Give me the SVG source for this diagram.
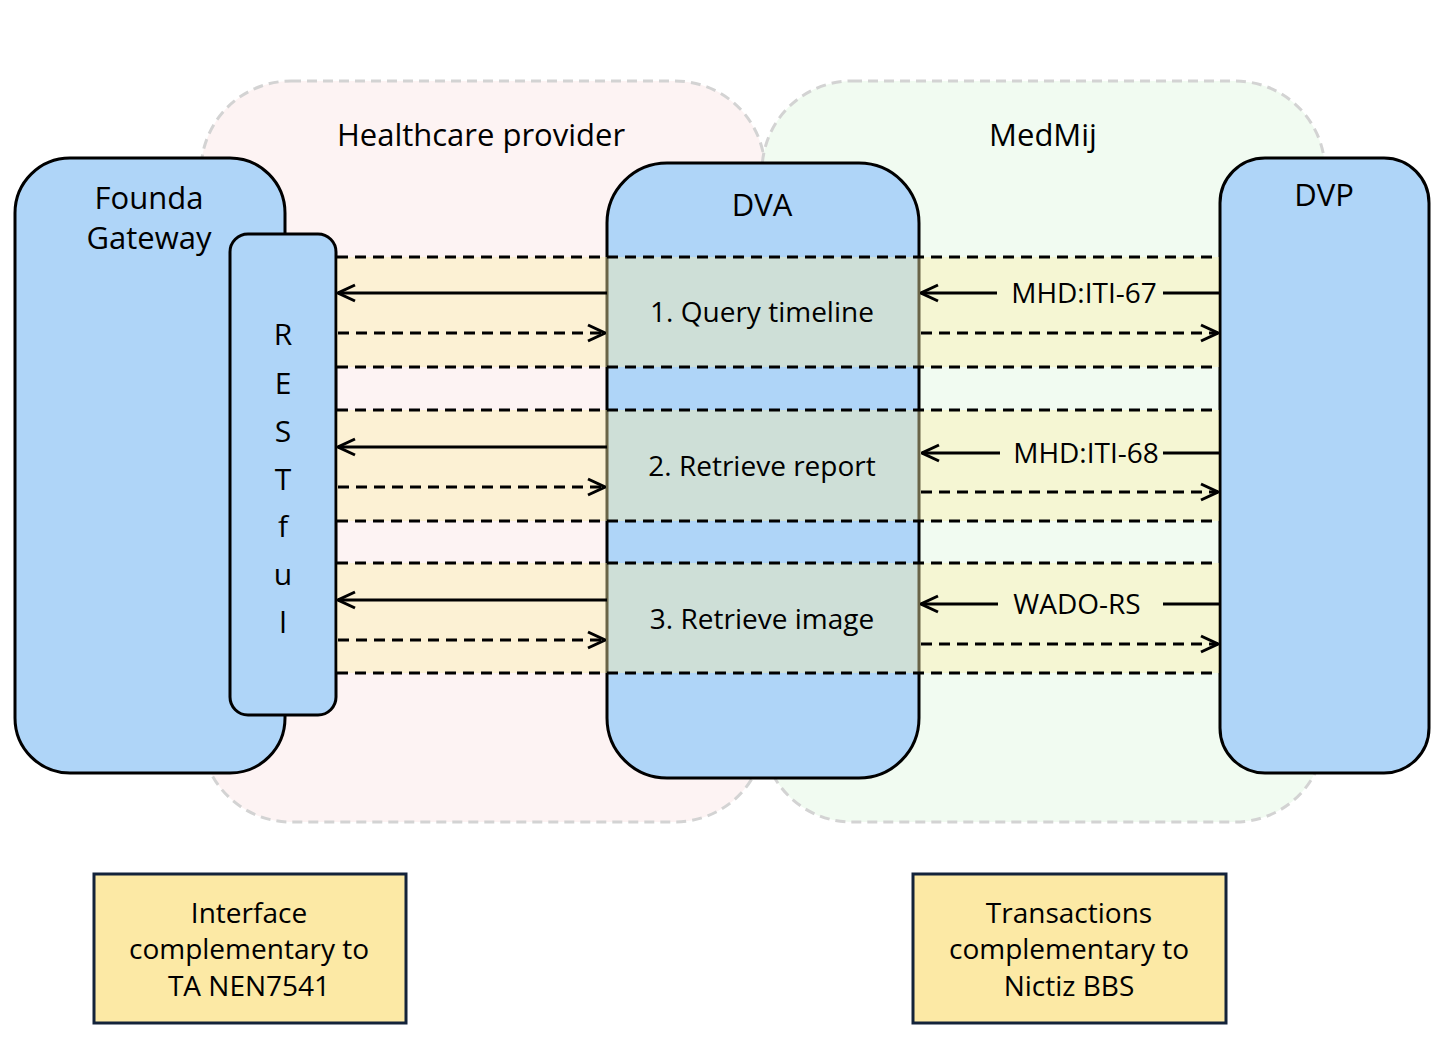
<svg xmlns="http://www.w3.org/2000/svg" width="1448" height="1046" viewBox="0 0 1448 1046">
<defs>
<marker id="arr" viewBox="0 0 20 20" refX="19" refY="10" markerWidth="20" markerHeight="20" markerUnits="userSpaceOnUse" orient="auto">
<path d="M2,2 L19,10 L2,18" fill="none" stroke="#000" stroke-width="3"/>
</marker>
</defs>
<style>
.zone{stroke:#d3d3d3;stroke-width:3;stroke-dasharray:10 6}
.node{fill:#afd5f8;stroke:#000;stroke-width:3}
.t{font-family:"Open Sans","Liberation Sans",Arial,sans-serif;font-size:31px;fill:#000;text-anchor:middle;dominant-baseline:central}
.r{font-size:30px}
.s{font-size:28px}
.band{fill:rgb(250,238,170);opacity:0.42}
.sep{stroke:#000;stroke-width:3;stroke-dasharray:11 7;fill:none}
.req{stroke:#000;stroke-width:3;fill:none;marker-end:url(#arr)}
.rsp{stroke:#000;stroke-width:3;fill:none;stroke-dasharray:11 7;marker-end:url(#arr)}
.ln{stroke:#000;stroke-width:3;fill:none}
.note{fill:#fce9a5;stroke:#13233a;stroke-width:3}
</style>
<rect width="1448" height="1046" fill="#fff"/>
<g id="healthcare-provider">
<rect class="zone" x="201" y="81" width="564" height="741" rx="90" fill="#fdf3f3"/>
<text class="t" x="481" y="134">Healthcare provider</text>
</g>
<g id="medmij">
<rect class="zone" x="762" y="81" width="563" height="741" rx="90" fill="#f1fbf1"/>
<text class="t" x="1043" y="134">MedMij</text>
</g>
<g id="founda-gateway">
<rect class="node" x="15" y="158" width="270" height="615" rx="55"/>
<text class="t" x="149" y="197">Founda</text>
<text class="t" x="149" y="237">Gateway</text>
</g>
<g id="restful">
<rect class="node" x="230" y="234" width="106" height="481" rx="18"/>
<text class="t r" x="283" y="333">R</text>
<text class="t r" x="283" y="382">E</text>
<text class="t r" x="283" y="430">S</text>
<text class="t r" x="283" y="478">T</text>
<text class="t r" x="283" y="525">f</text>
<text class="t r" x="283" y="573">u</text>
<text class="t r" x="283" y="621">l</text>
</g>
<g id="dva">
<rect class="node" x="607" y="163" width="312" height="615" rx="60"/>
<text class="t" x="762" y="204">DVA</text>
</g>
<g id="dvp">
<rect class="node" x="1220" y="158" width="209" height="615" rx="45"/>
<text class="t" x="1324" y="194">DVP</text>
</g>
<g id="bands">
<rect class="band" x="337" y="257" width="882" height="110"/>
<rect class="band" x="337" y="410" width="882" height="111"/>
<rect class="band" x="337" y="563" width="882" height="110"/>
</g>
<g id="connectors">
<path class="sep" d="M337,257 H1220 M337,367 H1220 M337,410 H1220 M337,521 H1220 M337,563 H1220 M337,673 H1220"/>
<path class="req" d="M607,293 H338"/>
<path class="rsp" d="M338,333 H605"/>
<path class="req" d="M607,447 H338"/>
<path class="rsp" d="M338,487 H605"/>
<path class="req" d="M607,600 H338"/>
<path class="rsp" d="M338,640 H605"/>
<path class="ln" d="M1220,293 H1163"/>
<path class="req" d="M997,293 H921"/>
<path class="rsp" d="M921,333 H1218"/>
<path class="ln" d="M1220,453 H1163"/>
<path class="req" d="M1000,453 H922"/>
<path class="rsp" d="M921,492 H1218"/>
<path class="ln" d="M1220,604 H1163"/>
<path class="req" d="M998,604 H921"/>
<path class="rsp" d="M921,644 H1218"/>
<text class="t s" x="1084" y="292">MHD:ITI-67</text>
<text class="t s" x="1086" y="452">MHD:ITI-68</text>
<text class="t s" x="1077" y="603">WADO-RS</text>
</g>
<g id="steps">
<text class="t s" x="762" y="311">1. Query timeline</text>
<text class="t s" x="762" y="465">2. Retrieve report</text>
<text class="t s" x="762" y="618">3. Retrieve image</text>
</g>
<g id="note-left">
<rect class="note" x="94" y="874" width="312" height="149"/>
<text class="t s" x="249" y="912">Interface</text>
<text class="t s" x="249" y="948">complementary to</text>
<text class="t s" x="249" y="985">TA NEN7541</text>
</g>
<g id="note-right">
<rect class="note" x="913" y="874" width="313" height="149"/>
<text class="t s" x="1069" y="912">Transactions</text>
<text class="t s" x="1069" y="948">complementary to</text>
<text class="t s" x="1069" y="985">Nictiz BBS</text>
</g>
</svg>
